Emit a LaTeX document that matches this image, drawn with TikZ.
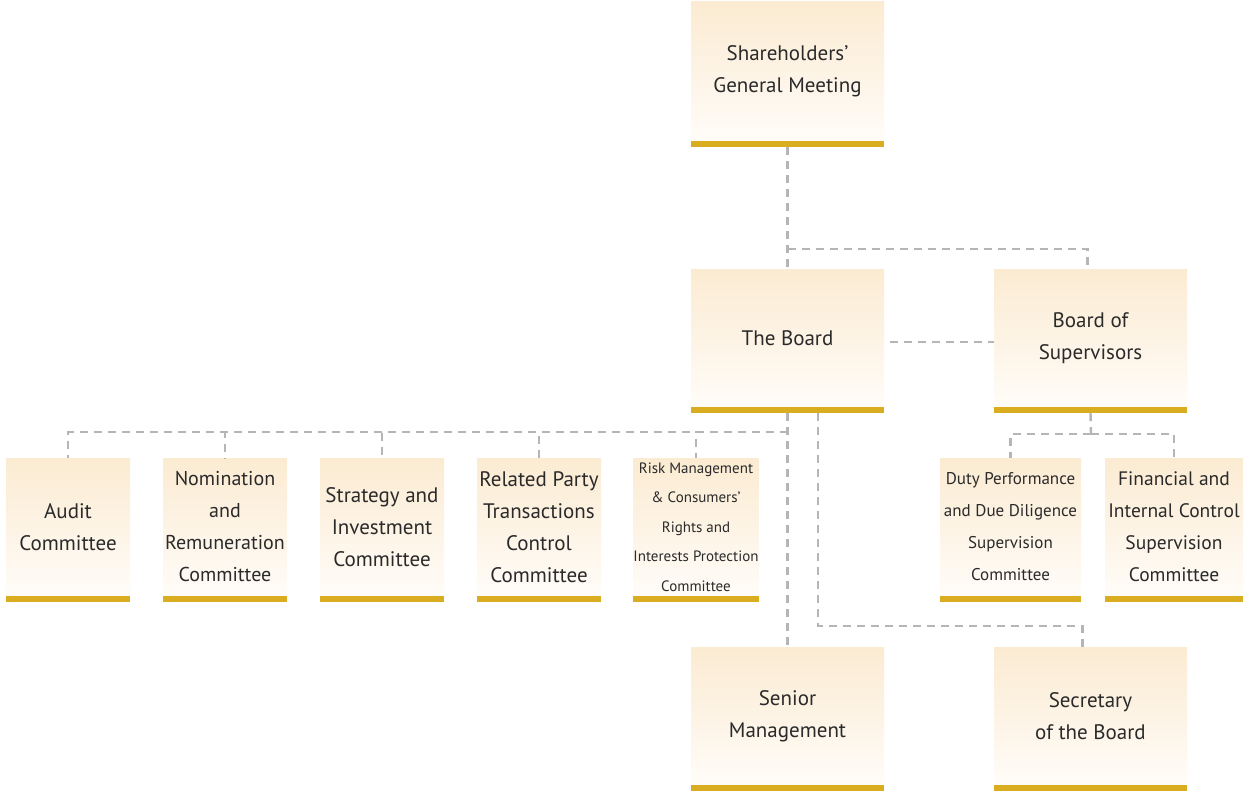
\documentclass[tikz,border=0pt]{standalone}
\usepackage{fontspec}
\setmainfont{PT Sans}
\definecolor{gold}{HTML}{D9AD1F}
\definecolor{topc}{HTML}{FBEBD2}
\definecolor{botc}{HTML}{FFFCF8}
\definecolor{conncol}{HTML}{B5B5B5}
\definecolor{txt}{HTML}{2A2A2A}
\begin{document}
\begin{tikzpicture}[x=1pt,y=-1pt,
  box/.style={inner sep=0pt, top color=topc, bottom color=botc, draw=none,
    minimum height=138pt, minimum width=#1pt, align=center,
    text=txt, font=\fontsize{21}{32}\selectfont},
  small/.style={font=\fontsize{15}{29.5}\selectfont},
  conn/.style={draw=conncol, line width=2.4pt, dash pattern=on 8pt off 6pt}]
\useasboundingbox (0,0) rectangle (1243,792);

\node[box=193, minimum height=139pt] (sgm) at (787.5,71.5) {Shareholders’\\General Meeting};
\node[box=193] (board) at (787.5,338) {The Board};
\node[box=193] (bos) at (1090.5,338) {Board of\\Supervisors};
\node[box=124] (audit) at (68,527) {Audit\\Committee};
\node[box=124, font=\fontsize{20}{32}\selectfont] (nom) at (225,527) {Nomination\\and\\Remuneration\\Committee};
\node[box=124] (strat) at (382,527) {Strategy and\\Investment\\Committee};
\node[box=124] (rel) at (539,527) {Related Party\\Transactions\\Control\\Committee};
\node[box=124, small] (risk) at (696,527) {Risk Management\\\& Consumers’\\Rights and\\Interests Protection\\Committee};
\node[box=141, font=\fontsize{17}{32}\selectfont] (duty) at (1010.5,527) {Duty Performance\\and Due Diligence\\Supervision\\Committee};
\node[box=138, font=\fontsize{19.5}{32}\selectfont] (fin) at (1174,527) {Financial and\\Internal Control\\Supervision\\Committee};
\node[box=193] (senior) at (787.5,716) {Senior\\Management};
\node[box=193] (sec) at (1090.5,716) {Secretary\\of the Board};

\foreach \n in {sgm,board,bos,audit,nom,strat,rel,risk,duty,fin,senior,sec}
  \fill[gold] (\n.south west) rectangle ([yshift=-6pt]\n.south east);

% connectors
\coordinate (j1) at (787.5,249);
\coordinate (j2) at (787.5,432);
\coordinate (j3) at (818,413);
\coordinate (j4) at (818,626);
\coordinate (j5) at (1091,434);
\draw[conn] ([yshift=-6pt]sgm.south) -- (board.north);
\draw[conn] (j1) -| ([xshift=-3pt]bos.north);
\draw[conn] ([xshift=6pt,yshift=-4pt]board.east) -- ([yshift=-4pt]bos.west);
\draw[conn] ([yshift=-6pt]board.south) -- (senior.north);
\foreach \n in {audit,nom,strat,rel,risk}
  \draw[conn] (j2) -| (\n.north);
\draw[conn] (j3) -- (j4) -| ([xshift=-8pt]sec.north);
\draw[conn] ([yshift=-6pt]bos.south) -- (j5);
\draw[conn] (j5) -| (duty.north);
\draw[conn] (j5) -| (fin.north);
\end{tikzpicture}
\end{document}
